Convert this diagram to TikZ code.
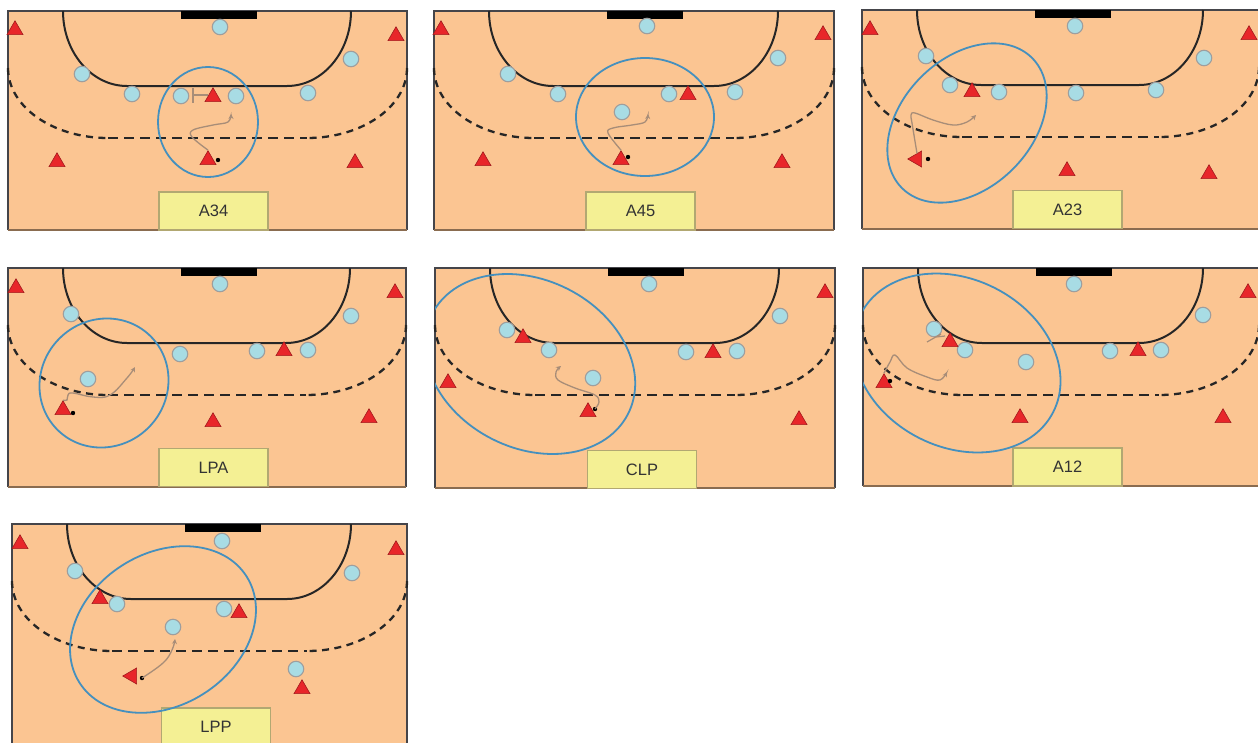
\documentclass[tikz,border=0pt]{standalone}
\usepackage{fontspec}
\setmainfont{Liberation Sans}
\usepackage{xcolor}
\usetikzlibrary{shapes.geometric, arrows.meta}
\definecolor{hbcourt}{HTML}{FBC592}
\definecolor{hbframe}{HTML}{45454A}
\definecolor{hbdefend}{HTML}{A8DCE4}
\definecolor{hbattack}{HTML}{E8262A}
\definecolor{hbzone}{HTML}{4590BE}
\definecolor{hbrun}{HTML}{A88D78}
\definecolor{hblabel}{HTML}{F4F094}
\tikzset{
  defender/.style={circle, draw=black!38, fill=hbdefend, line width=1.1pt, minimum size=15.5pt, inner sep=0pt},
  attacker/.style={regular polygon, regular polygon sides=3, draw=hbattack!70!black, fill=hbattack, line width=0.6pt, minimum size=18.5pt, inner sep=0pt},
  carrier/.style={attacker, shape border rotate=90},
  balldot/.style={circle, fill=black, minimum size=4.4pt, inner sep=0pt},
  zonering/.style={draw=hbzone, line width=1.8pt},
  runline/.style={draw=hbrun, line width=1.3pt, -{Stealth[length=5pt, width=5pt]}},
  blockline/.style={draw=hbrun, line width=1.2pt},
  tagbox/.style={draw=black!25!hblabel!70!hbrun, fill=hblabel, line width=1.2pt, minimum width=109pt, minimum height=38pt, inner sep=0pt, font=\fontsize{16.5}{18}\selectfont, text=black!80}
}

\begin{document}
\begin{tikzpicture}[x=1pt, y=-1pt]
  \useasboundingbox (0,0) rectangle (1258,742);
  % courts
  \foreach \px/\py/\pw/\ph/\tx/\ty/\lab in {
    8/11/399/219/213.5/211/A34, 434/11/400/219/640.5/211/A45, 862/10/397/219/1067.5/209.5/A23,
    8/268/398/219/213.5/467.5/LPA, 435/268/400/220/642/469.5/CLP, 863/268/396/218/1067.5/467/A12,
    12/524/395/230/216/727/LPP} {
    \fill[hbcourt] (\px,\py) rectangle ++(\pw,\ph);
    \draw[hbframe, line width=2pt] (\px,\py+\ph) -- (\px,\py) -- ++(\pw,0) -- ++(0,\ph);
    \draw[black!45!hbcourt, line width=1.4pt] (\px,\py+\ph) -- ++(\pw,0);
    \fill[black] (\px+173,\py) rectangle ++(75.5,7.5);
    \draw[black!85, line width=2pt] (\px+55,\py)
      arc [start angle=180, end angle=90, x radius=64, y radius=75]
      -- (\px+\pw-120,\py+75)
      arc [start angle=90, end angle=0, x radius=64, y radius=75];
    \draw[black!85, line width=2.3pt, dash pattern=on 7pt off 5.5pt] (\px,\py+57)
      arc [start angle=180, end angle=90, x radius=100, y radius=70];
    \draw[black!85, line width=2.3pt, dash pattern=on 7pt off 5.5pt] (\px+\pw,\py+57)
      arc [start angle=0, end angle=90, x radius=100, y radius=70];
    \draw[black!85, line width=2.3pt, dash pattern=on 10pt off 6pt] (\px+100,\py+127) -- (\px+\pw-100,\py+127);
    \node[tagbox] (tag\lab) at (\tx,\ty) {\lab};
  }
  % zones, cut off at the left side of their court
  \foreach \lx/\cx/\cy/\ra/\rb/\rot in {
    8/208/122/55/50/90, 434/645/117/69/59/0, 862/967/123/92/65/45, 8/104/383/66/63/45,
    435/530/364/110/84/-27, 863/957/363/108/84/-27, 12/163/629.5/99/76/32.5} {
    \begin{scope}
      \clip (\lx,0) rectangle (1258,742);
      \draw[zonering, rotate around={\rot:(\cx,\cy)}] (\cx,\cy) ellipse [x radius=\ra, y radius=\rb];
    \end{scope}
  }
  % defenders
  \foreach \x/\y [count=\i] in {220/27, 82/74, 132/94, 181/96, 236/96, 308/93, 351/59} {
    \node[defender] (aa\i) at (\x,\y) {};
  }
  \foreach \x/\y [count=\i] in {647/26, 508/74, 558/94, 622/112, 669/94, 735/92, 778/58} {
    \node[defender] (ab\i) at (\x,\y) {};
  }
  \foreach \x/\y [count=\i] in {1075/26, 926/56, 950/85, 999/92, 1076/93, 1156/90, 1204/58} {
    \node[defender] (ac\i) at (\x,\y) {};
  }
  \foreach \x/\y [count=\i] in {220/284, 71/314, 88/379, 180/354, 257/351, 308/350, 351/316} {
    \node[defender] (ad\i) at (\x,\y) {};
  }
  \foreach \x/\y [count=\i] in {649/284, 507/330, 549/350, 593/378, 686/352, 737/351, 780/316} {
    \node[defender] (ae\i) at (\x,\y) {};
  }
  \foreach \x/\y [count=\i] in {1074/284, 934/329, 965/350, 1026/362, 1110/351, 1161/350, 1203/315} {
    \node[defender] (af\i) at (\x,\y) {};
  }
  \foreach \x/\y [count=\i] in {222/541, 75/571, 117/604, 173/627, 224/609, 296/669, 352/573} {
    \node[defender] (ag\i) at (\x,\y) {};
  }
  % blocks
  \draw[blockline] (193,88) -- (193,103) (193,95) -- (208,95);
  \draw[blockline] (927,342) -- (941,334) (936,337) -- (945,336);
  % attackers without the ball
  \foreach \x/\y [count=\i] in {15/30, 396/36, 213/97, 57/162, 355/163,
      441/30, 823/35, 688/95, 483/161, 782/163,
      870/30, 1249/35, 972/92, 1067/171, 1209/174,
      16/288, 395/293, 284/351, 213/422, 369/418,
      825/293, 523/338, 713/353, 448/383, 799/420,
      1248/293, 950/342, 1138/351, 1020/418, 1223/418,
      20/544, 396/550, 100/599, 239/613, 302/689} {
    \node[attacker] (opp\i) at (\x,\y) {};
  }
  % ball carriers and their ball
  \node[attacker] (ballaa) at (208,160) {};
  \node[attacker] (ballab) at (621,160) {};
  \node[carrier] (ballac) at (917,159) {};
  \node[attacker] (ballad) at (63,410) {};
  \node[attacker] (ballae) at (588,412) {};
  \node[attacker] (ballaf) at (884,383) {};
  \node[carrier] (ballag) at (132,676) {};
  \foreach \x/\y/\n in {218/160/aa, 628/157/ab, 928/159/ac, 73/413/ad, 595/409/ae, 890/381/af, 142/678/ag} {
    \node[balldot] (dot\n) at (\x,\y) {};
  }
  % runs
  \coordinate (endaa) at (231,114);
  \coordinate (endab) at (648,114);
  \coordinate (endac) at (976,115);
  \coordinate (endad) at (135,367);
  \coordinate (endae) at (561,366);
  \coordinate (endaf) at (947,372);
  \coordinate (endag) at (175,639);
  \draw[runline] plot [smooth, tension=0.6] coordinates {(ballaa.north) (192,137) (193,130) (213,125) (228,122) (endaa)};
  \draw[runline] plot [smooth, tension=0.6] coordinates {(ballab.north) (608,133) (613,128) (632,125) (645,122) (endab)};
  \draw[runline] plot [smooth, tension=0.6] coordinates {(ballac.north) (912,123) (911,115) (915,113) (933,120) (953,125) (967,122) (endac)};
  \draw[runline] plot [smooth, tension=0.7] coordinates {(ballad.north) (67,400) (68,395) (73,393) (93,397) (110,395) (127,378) (endad)};
  \draw[runline] plot [smooth, tension=0.6] coordinates {(dotae) (599,402) (595,395) (575,388) (558,380) (556,372) (endae)};
  \draw[runline] plot [smooth, tension=0.6] coordinates {(ballaf.north) (890,362) (895,355) (907,368) (927,377) (940,380) (endaf)};
  \draw[runline] plot [smooth, tension=0.7] coordinates {(dotag) (163,663) (172,650) (endag)};
\end{tikzpicture}
\end{document}
